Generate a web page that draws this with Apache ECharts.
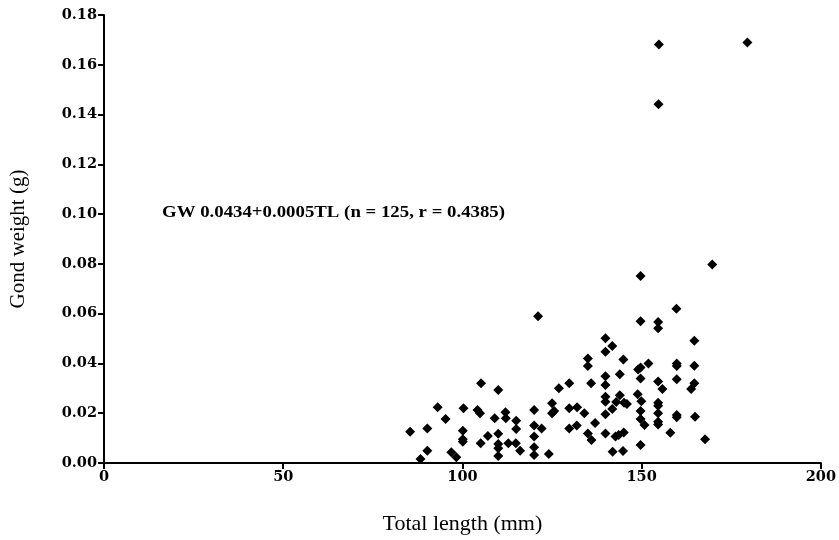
<!DOCTYPE html>
<html>
<head>
<meta charset="utf-8">
<script src="https://cdn.jsdelivr.net/npm/echarts@6/dist/echarts.min.js"></script>
<style>
html,body{margin:0;padding:0;background:#fff;}
#c{width:839px;height:540px;}
</style>
</head>
<body>
<div id="c"></div>
<script>
// Total length (mm)
const totalLength = [
121.1,139.9,139.9,135.0,135.0,105.2,110.0,129.8,135.9,139.9,139.9,126.9,139.9,139.9,125.0,
93.1,100.3,104.2,104.9,120.0,129.8,132.0,125.0,125.6,112.0,112.1,109.0,95.3,134.0,139.9,
115.0,120.0,122.1,115.0,90.2,85.4,100.1,100.1,100.1,110.0,107.1,105.1,129.8,131.9,137.0,
135.0,136.0,139.9,120.0,112.8,114.9,110.0,110.0,116.1,120.0,90.2,96.9,110.0,120.0,124.1,
88.3,98.3,
169.7,149.7,159.7,149.7,154.6,154.6,164.7,141.8,144.9,149.7,149.0,151.9,159.8,159.8,164.7,
143.9,149.7,154.6,155.8,159.8,164.7,163.8,143.9,142.9,145.1,145.9,148.9,149.9,154.6,154.6,
159.8,159.8,164.9,141.8,149.7,149.7,150.8,154.6,154.6,154.6,142.7,143.6,145.0,158.0,167.7,
141.9,144.8,149.7,
154.8,154.7,179.5
];
// Gonad weight (g)
const gonadWeight = [
0.0590,0.0501,0.0447,0.0420,0.0390,0.0320,0.0293,0.0320,0.0320,0.0349,0.0313,0.0300,0.0266,0.0246,0.0240,
0.0224,0.0220,0.0213,0.0200,0.0213,0.0220,0.0224,0.0200,0.0209,0.0204,0.0180,0.0180,0.0177,0.0200,0.0196,
0.0170,0.0151,0.0139,0.0137,0.0139,0.0126,0.0130,0.0095,0.0085,0.0118,0.0108,0.0079,0.0139,0.0151,0.0161,
0.0119,0.0092,0.0119,0.0106,0.0079,0.0079,0.0076,0.0059,0.0049,0.0063,0.0049,0.0043,0.0028,0.0032,0.0036,
0.0016,0.0023,
0.0798,0.0751,0.0620,0.0570,0.0567,0.0541,0.0491,0.0470,0.0416,0.0384,0.0376,0.0400,0.0400,0.0390,0.0391,
0.0357,0.0340,0.0327,0.0297,0.0336,0.0320,0.0297,0.0272,0.0245,0.0242,0.0237,0.0276,0.0248,0.0242,0.0230,
0.0193,0.0184,0.0186,0.0217,0.0209,0.0177,0.0153,0.0200,0.0166,0.0155,0.0106,0.0112,0.0123,0.0122,0.0095,
0.0045,0.0048,0.0072,
0.1681,0.1441,0.1690
];
const xTicks = [0, 50, 100, 150, 200];
const yTicks = [0.00, 0.02, 0.04, 0.06, 0.08, 0.10, 0.12, 0.14, 0.16, 0.18];
const equationText = 'GW 0.0434+0.0005TL (n = 125, r = 0.4385)';

const points = totalLength.map((x, i) => [x, gonadWeight[i]]);
const serif = '"Liberation Serif", "Times New Roman", serif';
const labelFont = '"DejaVu Serif", "Liberation Serif", serif';

const chart = echarts.init(document.getElementById('c'));
chart.setOption({
  animation: false,
  backgroundColor: '#fff',
  grid: {left: 103, right: 16, top: 15, bottom: 77, containLabel: false},
  xAxis: {
    type: 'value', min: xTicks[0], max: xTicks[xTicks.length - 1], interval: 50,
    name: 'Total length (mm)', nameLocation: 'middle', nameGap: 50,
    nameTextStyle: {fontFamily: serif, fontSize: 22, color: '#000'},
    axisLine: {show: true, lineStyle: {color: '#000', width: 2}},
    axisTick: {show: true, inside: false, length: 6, lineStyle: {color: '#000', width: 2}},
    axisLabel: {fontFamily: labelFont, fontSize: 14.5, fontWeight: 'bold', color: '#000', margin: 7},
    splitLine: {show: false}
  },
  yAxis: {
    type: 'value', min: yTicks[0], max: yTicks[yTicks.length - 1], interval: 0.02,
    name: 'Gond weight (g)', nameLocation: 'middle', nameGap: 75, nameRotate: 90,
    nameTextStyle: {fontFamily: serif, fontSize: 21, color: '#000'},
    axisLine: {show: true, lineStyle: {color: '#000', width: 2}},
    axisTick: {show: true, inside: false, length: 6, lineStyle: {color: '#000', width: 2}},
    axisLabel: {fontFamily: labelFont, fontSize: 14.5, fontWeight: 'bold', color: '#000', margin: 7,
      formatter: v => v.toFixed(2)},
    splitLine: {show: false}
  },
  graphic: [{
    type: 'text', x: 162, y: 213, scaleX: 1.14, scaleY: 1,
    style: {text: equationText, fontFamily: serif, fontSize: 16.5, fontWeight: 'bold', fill: '#000',
      textVerticalAlign: 'middle', verticalAlign: 'middle'}
  }],
  series: [{
    type: 'scatter', data: points, symbol: 'diamond', symbolSize: 10,
    itemStyle: {color: '#000', opacity: 1}
  }]
});
</script>
</body>
</html>
